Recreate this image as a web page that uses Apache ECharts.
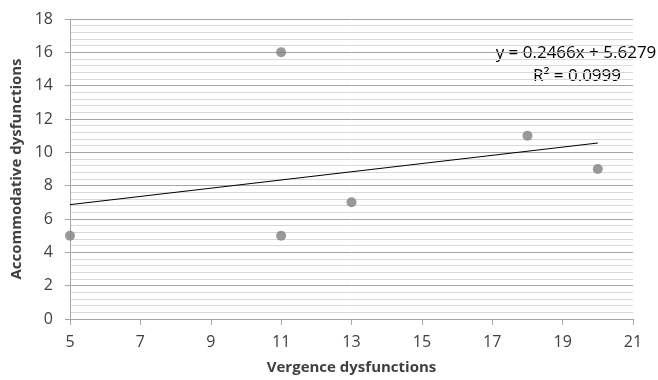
<!DOCTYPE html>
<html>
<head>
<meta charset="utf-8">
<script src="https://cdn.jsdelivr.net/npm/echarts@6/dist/echarts.min.js"></script>
<style>
  html, body { margin: 0; padding: 0; background: #fff; }
  #chart { width: 658px; height: 380px; }
</style>
</head>
<body>
<div id="chart"></div>
<script>
// scatter points
var vergence = [5, 11, 11, 13, 18, 20];
var accommodative = [5, 16, 5, 7, 11, 9];

// linear trendline (from the chart's equation)
var trendX = [5, 20];
var slope = 0.2466;
var intercept = 5.6279;
var eqText = 'y = 0.2466x + 5.6279';
var r2Text = 'R² = 0.0999';

var points = [];
for (var i = 0; i < vergence.length; i++) {
    points.push([vergence[i], accommodative[i]]);
}
var trend = [];
for (var i = 0; i < trendX.length; i++) {
    trend.push([trendX[i], slope * trendX[i] + intercept]);
}

var font = '"Open Sans", "Liberation Sans", sans-serif';
var mychart = echarts.init(document.getElementById('chart'), null, {renderer: 'canvas'});
var option = {
    animation: false,
    grid: { left: 70, right: 25, top: 19, bottom: 60 },
    xAxis: {
        type: 'value',
        min: 5, max: 21, interval: 2,
        name: 'Vergence dysfunctions',
        nameLocation: 'middle',
        nameGap: 41,
        nameTextStyle: { fontFamily: font, fontWeight: 'bold', fontSize: 15, color: '#404040' },
        axisLine: { show: true, lineStyle: { color: '#a6a6a6' } },
        axisTick: { show: true, length: 6, lineStyle: { color: '#a6a6a6' } },
        axisLabel: { fontFamily: font, fontSize: 16, color: '#404040', margin: 15 },
        splitLine: { show: false }
    },
    yAxis: {
        type: 'value',
        min: 0, max: 18, interval: 2,
        name: 'Accommodative dysfunctions',
        nameLocation: 'middle',
        nameGap: 44,
        nameRotate: 90,
        nameTextStyle: { fontFamily: font, fontWeight: 'bold', fontSize: 15, color: '#404040' },
        axisLine: { show: true, lineStyle: { color: '#a6a6a6' } },
        axisTick: { show: true, length: 5, lineStyle: { color: '#a6a6a6' } },
        axisLabel: { fontFamily: font, fontSize: 16, color: '#404040', margin: 17 },
        splitLine: { show: true, lineStyle: { color: '#a6a6a6', width: 1 } },
        minorTick: { show: false, splitNumber: 5 },
        minorSplitLine: { show: true, lineStyle: { color: '#d9d9d9', width: 1 } }
    },
    series: [
        {
            type: 'scatter',
            data: points,
            symbolSize: 10,
            itemStyle: { color: '#808080' },
            z: 3
        },
        {
            type: 'line',
            data: trend,
            symbol: 'none',
            lineStyle: { color: '#000', width: 1 },
            z: 2
        }
    ],
    graphic: [
        {
            type: 'text', x: 576, y: 53,
            style: { text: eqText, fontFamily: font, fontSize: 17, fill: '#000', align: 'center', verticalAlign: 'middle' }
        },
        {
            type: 'text', x: 577, y: 76,
            style: { text: r2Text, fontFamily: font, fontSize: 17, fill: '#000', align: 'center', verticalAlign: 'middle' }
        }
    ]
};
mychart.setOption(option);
</script>
</body>
</html>
